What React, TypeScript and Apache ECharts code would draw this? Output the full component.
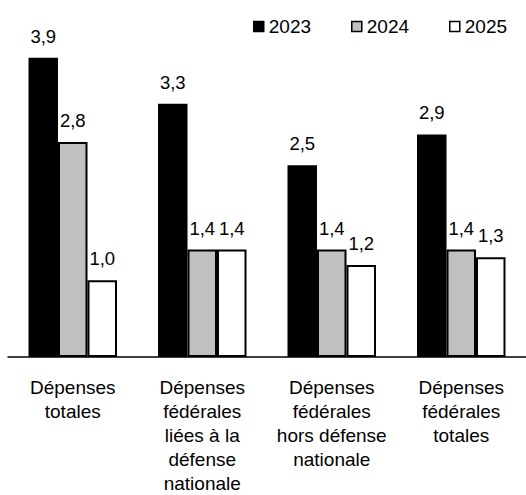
import React, { useEffect, useRef } from "react";
import * as echarts from "echarts";

const categories = [
  "Dépenses\ntotales",
  "Dépenses\nfédérales\nliées à la\ndéfense\nnationale",
  "Dépenses\nfédérales\nhors défense\nnationale",
  "Dépenses\nfédérales\ntotales",
];
const years = ["2023", "2024", "2025"];
const values2023 = [3.9, 3.3, 2.5, 2.9];
const values2024 = [2.8, 1.4, 1.4, 1.4];
const values2025 = [1.0, 1.4, 1.2, 1.3];
const seriesValues = [values2023, values2024, values2025];
const fills = ["#000000", "#c0c0c0", "#ffffff"];

const FONT = "'Liberation Sans', Arial, sans-serif";

export default function App() {
  const ref = useRef<HTMLDivElement>(null);
  useEffect(() => {
    if (!ref.current) return;
    const chart = echarts.init(ref.current, null, { renderer: "svg" });
    chart.setOption({
      animation: false,
      backgroundColor: "#ffffff",
      textStyle: { fontFamily: FONT },
      legend: {
        top: 12,
        left: 248,
        icon: "rect",
        itemWidth: 10,
        itemHeight: 10,
        itemGap: 40,
        itemStyle: { borderWidth: 1.5 },
        textStyle: { fontFamily: FONT, fontSize: 19, color: "#000" },
        data: years,
      },
      grid: { left: 8, width: 520, top: 50, height: 313 },
      xAxis: {
        type: "category",
        data: categories,
        axisLine: { lineStyle: { color: "#000", width: 1.5 } },
        axisTick: { show: false },
        axisLabel: {
          margin: 18,
          fontFamily: FONT,
          fontSize: 19,
          lineHeight: 24,
          color: "#000",
          interval: 0,
        },
      },
      yAxis: {
        type: "value",
        min: 0,
        max: 4,
        show: false,
        splitLine: { show: false },
      },
      series: years.map((y, i) => ({
        name: y,
        type: "bar",
        data: seriesValues[i],
        barWidth: 29.5,
        barGap: "0%",
        itemStyle: { color: fills[i], borderColor: "#000", borderWidth: 2 },
        label: {
          show: true,
          position: "top",
          distance: 12,
          fontFamily: FONT,
          fontSize: 18.5,
          color: "#000",
          formatter: (p: any) => Number(p.value).toFixed(1).replace(".", ","),
        },
      })),
    });
    return () => chart.dispose();
  }, []);
  return (
    <div
      ref={ref}
      style={{ position: "fixed", left: 0, top: 0, width: 526, height: 495 }}
    />
  );
}
